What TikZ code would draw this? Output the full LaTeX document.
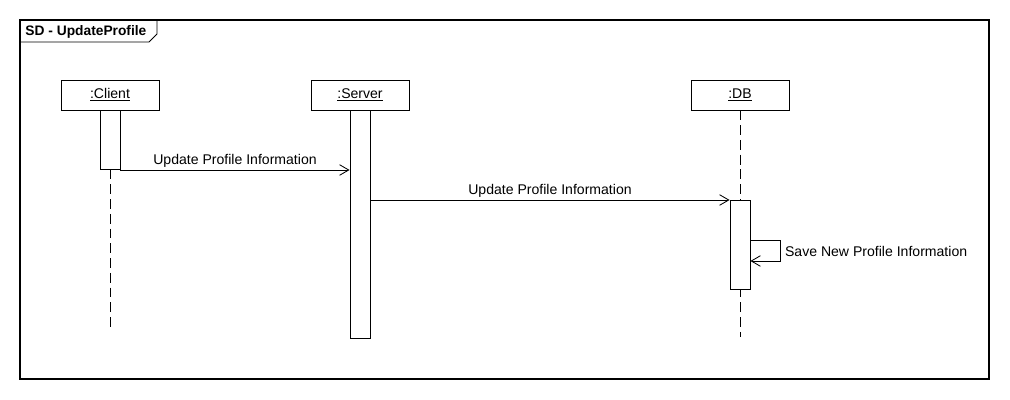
\documentclass[tikz,border=0pt]{standalone}
\usepackage{fontspec}
\setmainfont{Liberation Sans}
\usetikzlibrary{arrows.meta}

\tikzset{
  head/.style={draw, fill=white, minimum width=2.45cm, minimum height=0.75cm, inner sep=0pt},
  act/.style={draw, fill=white, anchor=north, minimum width=0.5cm, inner sep=0pt},
  life/.style={dash pattern=on 7pt off 3.5pt},
  msg/.style={-{Straight Barb[length=6.5pt, width=7.5pt]}},
  lbl/.style={font=\fontsize{10}{12}\selectfont, inner sep=1.5pt}
}

\begin{document}
\begin{tikzpicture}[x=0.025cm,y=-0.025cm, line width=0.6pt]
  \useasboundingbox (0,0) rectangle (1010,400);
  % frame and its tab
  \draw[line width=0.8pt] (20,20) rectangle (989,379);
  \node[anchor=west, font=\fontsize{9.8}{12}\selectfont\bfseries, inner sep=0pt] (title) at (25,32) {SD - UpdateProfile};
  \draw (20,42) -- (149,42) -- (157,34) -- (157,20);
  % lifelines
  \foreach \x/\n/\t/\e in {110/client/Client/330, 360/server/Server/338, 740/db/DB/337}
    {\node[head, lbl] (\n) at (\x,95) {\underline{:\t}};
     \coordinate (\n end) at (\x,\e);
     \draw[life] (\n.south) -- (\n end);}
  % activations
  \node[act, minimum height=1.475cm] (cact) at (client.south) {};
  \node[act, minimum height=5.7cm] (sact) at (server.south) {};
  \coordinate (dtop) at (740,200);
  \node[act, minimum height=2.225cm] (dact) at (dtop) {};
  % messages
  \coordinate (m1) at (0,170);
  \coordinate (m2) at (0,200);
  \coordinate (s1) at (0,240);
  \coordinate (s2) at (0,261);
  \draw[msg] (cact.east |- m1) -- node[above, lbl] {Update Profile Information} (sact.west |- m1);
  \draw[msg] (sact.east |- m2) -- node[above, lbl] {Update Profile Information} (dact.west |- m2);
  \draw[msg] (dact.east |- s1) -- ++(30,0) |- node[pos=0.25, right, lbl, xshift=1.5pt, yshift=-1pt] {Save New Profile Information} (dact.east |- s2);
\end{tikzpicture}
\end{document}
